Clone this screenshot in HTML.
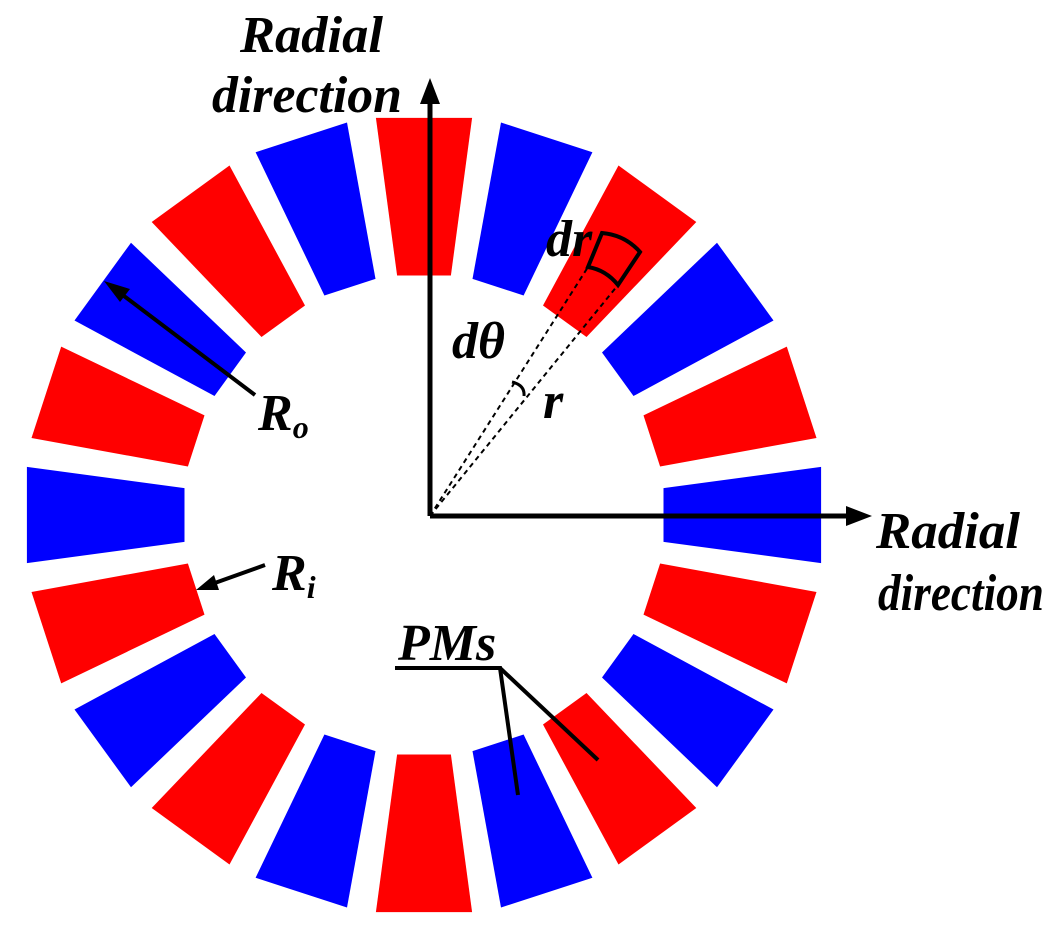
<!DOCTYPE html>
<html><head><style>body{margin:0;background:#fff}svg{display:block}
text{font-family:"Liberation Serif",serif;font-weight:bold;font-style:italic;font-size:52px;fill:#000}</style></head>
<body>
<svg id="s" width="1054" height="929" viewBox="0 0 1054 929">
<g id="mag"></g>
<line x1="430" y1="516" x2="430" y2="100" stroke="#000" stroke-width="5"/>
<polygon points="430,78 420,104 440,104" fill="#000"/>
<line x1="430" y1="516" x2="850" y2="516" stroke="#000" stroke-width="5"/>
<polygon points="872,516 846,506 846,526" fill="#000"/>
<line x1="430" y1="516" x2="588" y2="267" stroke="#000" stroke-width="2" stroke-dasharray="5,4"/>
<line x1="430" y1="516" x2="618" y2="285" stroke="#000" stroke-width="2" stroke-dasharray="5,4"/>
<path d="M588,267 L602,233 Q625,235 640,252 L618,285 Q606,270 588,267 Z" fill="none" stroke="#000" stroke-width="4"/>
<path d="M512,382 Q525,385 524,396" fill="none" stroke="#000" stroke-width="3"/>
<line x1="255" y1="395" x2="120" y2="293" stroke="#000" stroke-width="4"/>
<polygon points="104,281 130,289 120,302" fill="#000"/>
<line x1="265" y1="565" x2="212" y2="584" stroke="#000" stroke-width="4"/>
<polygon points="196,590 214,575 219,590" fill="#000"/>
<polyline points="395,668 500,668 518,795" fill="none" stroke="#000" stroke-width="4"/>
<line x1="500" y1="668" x2="598" y2="760" stroke="#000" stroke-width="4"/>
<text x="240" y="52" textLength="143" lengthAdjust="spacingAndGlyphs">Radial</text>
<text x="212" y="112" textLength="190" lengthAdjust="spacingAndGlyphs">direction</text>
<text x="876" y="548" textLength="144" lengthAdjust="spacingAndGlyphs">Radial</text>
<text x="878" y="610" textLength="166" lengthAdjust="spacingAndGlyphs">direction</text>
<text x="546" y="256" font-size="46">dr</text>
<text x="452" y="358" font-size="46">dθ</text>
<text x="543" y="418" font-size="46">r</text>
<text x="258" y="430" font-size="48">R<tspan font-size="32" dy="8">o</tspan></text>
<text x="272" y="590" font-size="48">R<tspan font-size="32" dy="8">i</tspan></text>
<text x="398" y="660" font-size="46">PMs</text>
</svg>
<script>
var g=document.getElementById('mag'),cx=424,cy=515,R=400,r=241,ns='http://www.w3.org/2000/svg';
for(var k=0;k<20;k++){var a=(90+18*k)*Math.PI/180,ho=6.9*Math.PI/180,hi=6.4*Math.PI/180;
function P(rad,ang){return (cx+rad*Math.cos(ang)).toFixed(1)+','+(cy-rad*Math.sin(ang)).toFixed(1);}
var p=document.createElementNS(ns,'polygon');
p.setAttribute('points',[P(R,a-ho),P(R,a+ho),P(r,a+hi),P(r,a-hi)].join(' '));
p.setAttribute('fill',k%2==0?'#ff0000':'#0000ff');g.appendChild(p);}
</script>
</body></html>
